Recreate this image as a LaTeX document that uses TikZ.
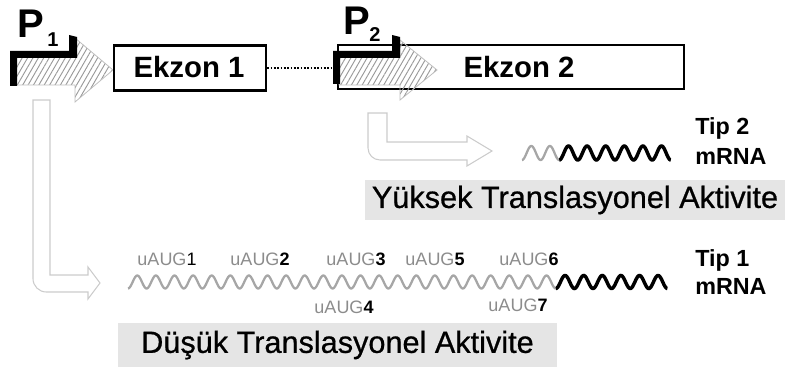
\documentclass[tikz,border=0pt]{standalone}
\usepackage{fontspec}
\setmainfont{Liberation Sans}
\newfontfamily\heavysans{Liberation Sans}[FakeBold=0.7]
\usetikzlibrary{patterns.meta}
\definecolor{hatchgray}{gray}{0.6}
\definecolor{outlinegray}{gray}{0.75}
\definecolor{paleline}{gray}{0.8}
\definecolor{boxgray}{gray}{0.9}
\definecolor{rnagray}{gray}{0.65}
\definecolor{labelgray}{gray}{0.55}
\begin{document}
\begin{tikzpicture}[x=0.75pt,y=-0.75pt,
  hatcharrow/.style={draw=outlinegray,line width=0.6pt,
    pattern={Lines[angle=60,distance=3.5pt,line width=0.7pt]},pattern color=hatchgray},
  promoter/.style={fill=black},
  exon/.style={draw=black,line width=1.8pt,fill=white,inner sep=0pt},
  exontext/.style={font=\fontsize{22}{22}\selectfont\bfseries,inner sep=0pt},
  plabel/.style={font=\fontsize{30}{30}\selectfont\bfseries,inner sep=0pt,anchor=base west},
  psub/.style={font=\fontsize{15}{15}\selectfont\bfseries,inner sep=0pt,anchor=base west},
  hollow/.style={draw=paleline,line width=0.8pt,fill=white},
  rnapale/.style={rnagray,line width=1.7pt},
  rnadark/.style={black,line width=2.6pt},
  tiplabel/.style={font=\fontsize{17.5}{17.5}\selectfont\bfseries,inner sep=0pt,anchor=base west},
  uaug/.style={font=\fontsize{13.5}{13.5}\selectfont,inner sep=0pt,anchor=base},
  activity/.style={fill=boxgray,inner sep=0pt,font=\fontsize{23}{23}\heavysans}]
\useasboundingbox (0,0) rectangle (797,367);

% promoter P1 and exon 1
\draw[hatcharrow] (12,55) -- (75,55) -- (75,38) -- (113,70) -- (75,102) -- (75,85) -- (12,85) -- cycle;
\fill[promoter] (10,86) -- (10,51) -- (69,51) -- (69,35) -- (77,37) -- (77,58) -- (17,58) -- (17,86) -- cycle;
\node[plabel] (pone) at (17,38) {P};
\node[psub] (ponesub) at (47,47) {1};
\node[exon,minimum width=114pt,minimum height=33.75pt] (ex1) at (190,68) {};
\node[exontext] (ex1txt) at (189,67) {Ekzon 1};

% exon 2 with promoter P2 on top
\node[exon,minimum width=259.5pt,minimum height=33pt] (ex2) at (511,67) {};
\node[exontext] (ex2txt) at (519,67) {Ekzon 2};
\draw[black,line width=1.3pt,dash pattern=on 1.3pt off 1.2pt] (ex1.east) -- (ex1.east -| ex2.west);
\draw[hatcharrow] (339,57) -- (400,57) -- (400,40) -- (437,70) -- (400,100) -- (400,85) -- (339,85) -- cycle;
\fill[promoter] (333,84) -- (333,51) -- (392,51) -- (392,35) -- (400,37) -- (400,58) -- (340,58) -- (340,84) -- cycle;
\node[plabel] (ptwo) at (343,35) {P};
\node[psub] (ptwosub) at (369,42) {2};

% transcription arrow from P2
\draw[hollow] (368,113) -- (387,113) -- (387,142) -- (467,142) -- (467,136) -- (492,151)
  -- (467,166) -- (467,160) [rounded corners=9pt] -- (368,160) [sharp corners] -- cycle;

% type 2 mRNA (phase in degrees: 360/18.6 per unit)
\draw[rnapale] plot[domain=522:559.2,samples=80] (\x,{153+7*cos((\x-522)*19.3548)});
\draw[rnadark] plot[domain=559.2:670.8,samples=220] (\x,{153+7*cos((\x-522)*19.3548)});
\node[tiplabel] (tip2) at (695,135) {Tip 2};
\node[tiplabel] (mrna2) at (695,165) {mRNA};
\node[activity,minimum width=315pt,minimum height=30pt] (high) at (575,200) {Yüksek Translasyonel Aktivite};

% transcription arrow from P1
\draw[hollow] (33,100) -- (50,100) -- (50,275) -- (88,275) -- (88,267) -- (100,283)
  -- (88,299) -- (88,292) [rounded corners=10pt] -- (33,292) [sharp corners] -- cycle;

% type 1 mRNA with upstream AUGs
\draw[rnapale] plot[domain=128:555.8,samples=600] (\x,{282+6.5*cos((\x-128)*19.3548)});
\draw[rnadark] plot[domain=555.8:667.4,samples=200] (\x,{282+6.5*cos((\x-128)*19.3548)});
\node[uaug] (u1) at (167,266) {\textcolor{labelgray}{uAUG}1};
\node[uaug] (u2) at (260,266) {\textcolor{labelgray}{uAUG}\textbf{2}};
\node[uaug] (u3) at (356,266) {\textcolor{labelgray}{uAUG}\textbf{3}};
\node[uaug] (u5) at (435,266) {\textcolor{labelgray}{uAUG}\textbf{5}};
\node[uaug] (u6) at (529,266) {\textcolor{labelgray}{uAUG}\textbf{6}};
\node[uaug] (u4) at (344,314) {\textcolor{labelgray}{uAUG}\textbf{4}};
\node[uaug] (u7) at (518,312) {\textcolor{labelgray}{uAUG}\textbf{7}};
\node[tiplabel] (tip1) at (695,267) {Tip 1};
\node[tiplabel] (mrna1) at (695,295) {mRNA};
\node[activity,minimum width=329pt,minimum height=33pt] (low) at (337.5,345) {Düşük Translasyonel Aktivite};
\end{tikzpicture}
\end{document}
